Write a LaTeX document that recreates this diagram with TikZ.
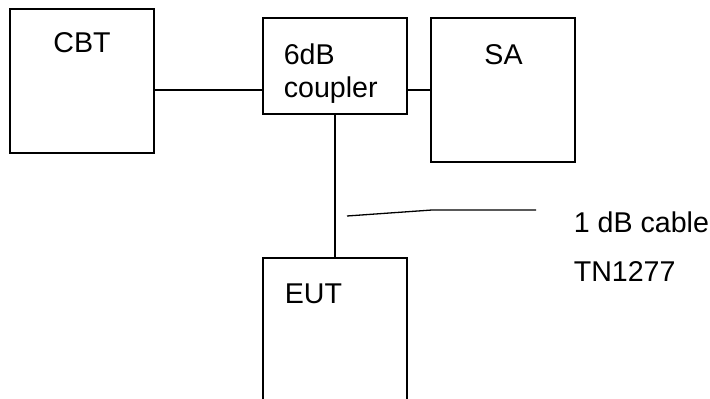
\documentclass[tikz,border=0pt]{standalone}
\usepackage{fontspec}
\setmainfont{Liberation Sans}
\usetikzlibrary{positioning}

\begin{document}
\begin{tikzpicture}[x=1pt,y=-1pt,line width=1.6pt,
    font=\fontsize{28.6}{33}\selectfont,
    unit/.style={draw,rectangle,minimum width=144pt,inner sep=0pt},
    txt/.style={inner sep=0pt,align=left}]
        \useasboundingbox (0,0) rectangle (710,399);
        \clip (0,0) rectangle (710,399);
        % boxes
        \node[unit,minimum height=144pt] (cbt) at (82,81) {};
        \node[unit,minimum height=96pt] (coupler) at (335,66) {};
        \node[unit,minimum height=144pt] (sa) at (503,90) {};
        \node[unit,minimum height=220pt] (eut) at (335,368) {};
        % texts
        \node[txt,anchor=base] (cbtlbl) at (82,52) {CBT};
        \node[txt,anchor=base] (salbl) at (503.5,64) {SA};
        \node[txt,anchor=base west] (couplerlbl) at (283,97.3) {6dB\\coupler};
        \node[txt,anchor=base west] (eutlbl) at (284,303) {EUT};
        \node[txt,anchor=base west] (cablelbl) at (573,232.7) {1 dB cable};
        \node[txt,anchor=base west] (cableid) at (573,281) {TN1277};
        % connections
        \coordinate (tap) at (0,90);
        \draw (cbt.east |- tap) -- (coupler.west |- tap);
        \draw (coupler.east |- tap) -- (sa.west |- tap);
        \draw (coupler.south) -- (eut.north);
        \coordinate (lead) at (347,216);
        \coordinate (bend) at (432,210);
        \coordinate (leadend) at (536,210);
        \draw[line width=1.3pt] (lead) -- (bend) -- (leadend);
\end{tikzpicture}
\end{document}
